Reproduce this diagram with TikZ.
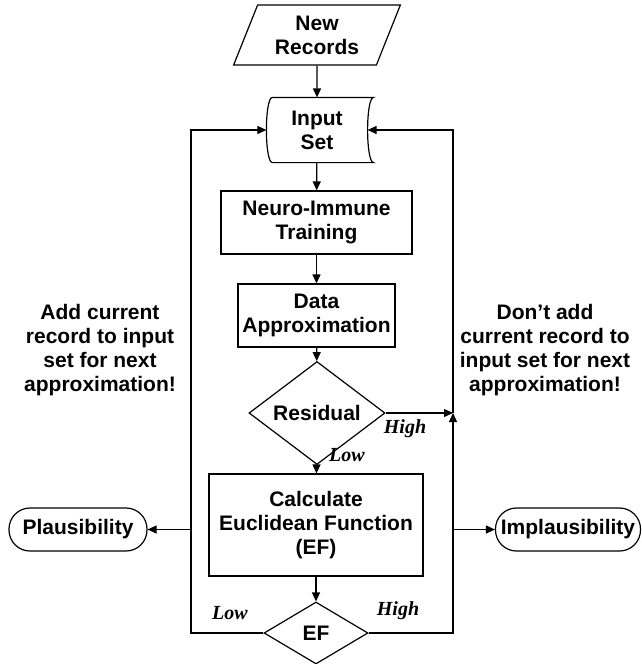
\documentclass[tikz,border=0pt]{standalone}
\usepackage{fontspec}
\setmainfont{Liberation Sans}
\newfontfamily\serifit{Liberation Serif}
\usetikzlibrary{arrows.meta,shapes.geometric}
\tikzset{
    punkt/.style={
           rectangle,
           draw=black, line width=1.2pt,
           align=center,
           font=\fontsize{21}{24}\selectfont\bfseries},
    raute/.style={punkt, diamond, inner sep=0pt},% entscheidung
    daten/.style={punkt, trapezium, trapezium left angle=68,
           trapezium right angle=112, trapezium stretches=true},
    ende/.style={punkt, rounded corners=21pt},
    marke/.style={font=\fontsize{20}{23}\selectfont\serifit\bfseries\itshape},
    pfeil/.style={-{Triangle[length=9pt,width=8pt]}, black, line width=1.2pt}
    }
\begin{document}
\begin{tikzpicture}[x=1pt,y=1pt]
      \useasboundingbox (0,0) rectangle (642,-664);
      \node[daten, minimum width=167pt, minimum height=60pt] (0) at (317,-35) {New\\Records};
      \node[punkt, draw=none, minimum width=100pt, minimum height=64pt] (1) at (317,-130) {Input\\Set};
      \draw[line width=1.2pt] ([xshift=6pt]1.north west) -- ([xshift=6pt]1.north east)
          .. controls ([xshift=-2pt]1.north east) and ([xshift=-2pt]1.south east) .. ([xshift=6pt]1.south east)
          -- ([xshift=6pt]1.south west)
          .. controls ([xshift=-2pt]1.south west) and ([xshift=-2pt]1.north west) .. cycle;
      \node[punkt, minimum width=191pt, minimum height=63pt] (2) at (316.5,-222.5) {Neuro-Immune\\Training};
      \node[punkt, minimum width=157pt, minimum height=63pt] (3) at (316.5,-315.5) {Data\\Approximation};
      \node[raute, minimum width=136pt, minimum height=63pt] (4) at (317,-413) {Residual};
      \node[punkt, minimum width=214pt, minimum height=102pt] (5) at (316,-525) {Calculate\\Euclidean Function\\(EF)};
      \node[raute, minimum width=104pt, minimum height=62pt] (6) at (316,-633) {EF};
      \node[ende, minimum width=138pt, minimum height=43pt] (7) at (78,-529.5) {Plausibility};
      \node[ende, minimum width=145pt, minimum height=43pt] (8) at (568,-529.5) {Implausibility};
      \node[punkt, draw=none] (9) at (100,-350) {Add current\\record to input\\set for next\\approximation!};
      \node[punkt, draw=none] (10) at (545,-350) {Don’t add\\current record to\\input set for next\\approximation!};
      \node[marke] (11) at (405,-429) {High};
      \node[marke] (12) at (347,-455) {Low};
      \node[marke] (13) at (230,-613) {Low};
      \node[marke] (14) at (398,-611) {High};
      \coordinate (r) at (453,-413);
      \coordinate (l) at (191,-130);
      \coordinate (lp) at (191,-529.5);
      \coordinate (rp) at (453,-529.5);
      \draw[pfeil] (0) -- (1);
      \draw[pfeil] (1) -- (2);
      \draw[pfeil] (2) -- (3);
      \draw[pfeil] (3) -- (4);
      \draw[pfeil] (4) -- (5);
      \draw[pfeil] (5) -- (6);
      \draw[pfeil] (4) -- (r);
      \draw[pfeil] (6.east) -| (r);
      \draw[pfeil] (r) |- (1.east);
      \draw[pfeil] (6.west) -| (l) -- (1.west);
      \draw[pfeil] (lp) -- (7);
      \draw[pfeil] (rp) -- (8);
\end{tikzpicture}
\end{document}
